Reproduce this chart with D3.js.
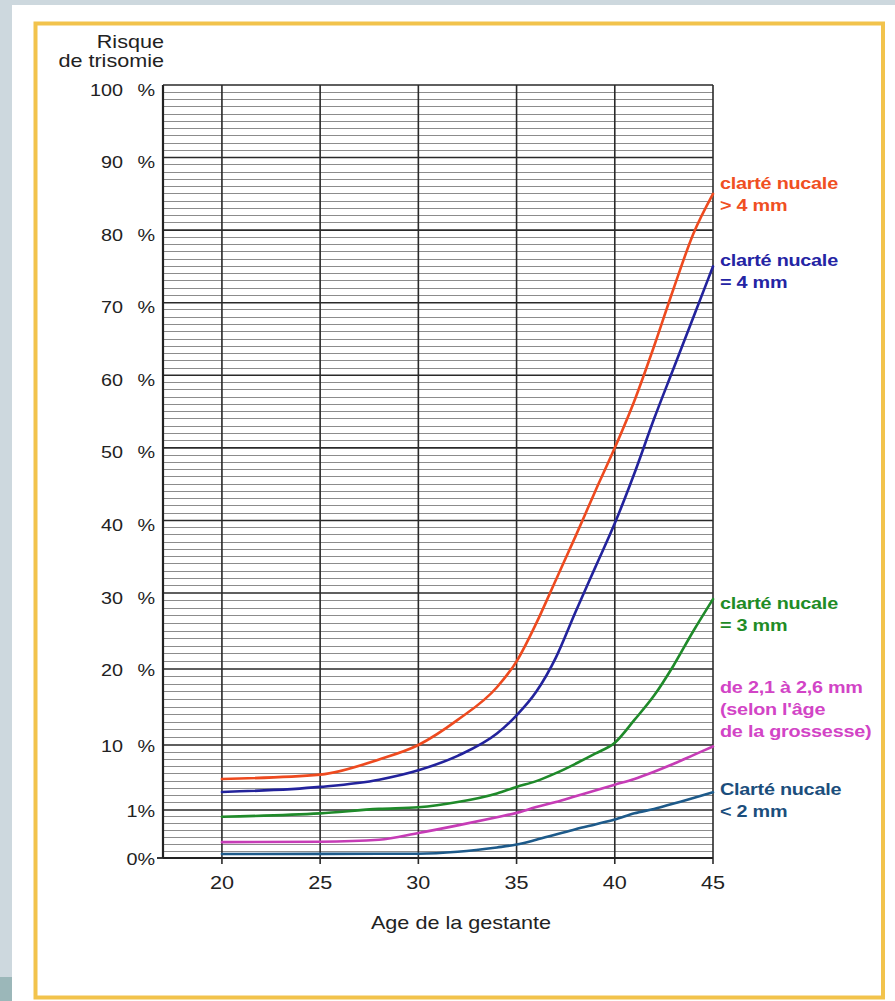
<!DOCTYPE html>
<html><head><meta charset="utf-8">
<script src="https://cdn.jsdelivr.net/npm/d3@7"></script>
<style>
html,body{margin:0;padding:0;background:#cdd8de;}
svg{display:block;}
text{font-family:"Liberation Sans",Arial,Helvetica,sans-serif;}
</style></head>
<body>
<svg id="chart" width="895" height="1001"></svg>
<script>
// ---- data ----
const ages = [20, 25, 28, 30, 32, 34, 35, 36, 37, 38, 39, 40, 41, 42, 43, 44, 45];
const sup4mm  = [5.3, 5.9, 8, 10, 13.3, 17.6, 21, 26, 31.8, 37.8, 44, 50, 56.5, 64, 72, 79.5, 85];
const eq4mm   = [3.5, 4.2, 5.2, 6.5, 8.5, 11.5, 13.9, 17, 21.5, 27.5, 33.5, 39.6, 46.5, 54, 61, 68, 75];
const eq3mm   = [0.86, 0.93, 1.15, 1.37, 2.1, 3.3, 4.2, 5.0, 6.1, 7.4, 8.8, 10.3, 13.3, 16.5, 20.5, 25, 29.2];
const mm21_26 = [0.33, 0.34, 0.38, 0.52, 0.68, 0.85, 0.94, 1.4, 2.1, 2.9, 3.7, 4.5, 5.3, 6.3, 7.4, 8.6, 9.8];
const inf2mm  = [0.083, 0.085, 0.088, 0.09, 0.13, 0.22, 0.28, 0.38, 0.49, 0.6, 0.7, 0.8, 0.93, 1.15, 1.9, 2.65, 3.45];

const xTicks = [20, 25, 30, 35, 40, 45];
const yTicks = [0, 1, 10, 20, 30, 40, 50, 60, 70, 80, 90, 100];
const yTickLabels = ["0%", "1%", "10 %", "20 %", "30 %", "40 %", "50 %", "60 %", "70 %", "80 %", "90 %", "100 %"];

const seriesColors = ["#ee4a1f", "#23239c", "#1f8a2a", "#c63cb6", "#1d5a8a"];
const labelColors  = ["#f04f22", "#2424a4", "#1f8c26", "#d244c6", "#1b4e7c"];
const seriesLabels = [
  ["clarté nucale", "> 4 mm"],
  ["clarté nucale", "= 4 mm"],
  ["clarté nucale", "= 3 mm"],
  ["de 2,1 à 2,6 mm", "(selon l'âge", "de la grossesse)"],
  ["Clarté nucale", "< 2 mm"]
];
const seriesValues = [sup4mm, eq4mm, eq3mm, mm21_26, inf2mm];

// ---- layout ----
const svg = d3.select("#chart");
const W = 895, H = 1001;
const plot = {left: 163, right: 713, top: 85, bottom: 858};

// page background pieces
svg.append("rect").attr("x", 0).attr("y", 0).attr("width", W).attr("height", H).attr("fill", "#cdd8de");
svg.append("rect").attr("x", 0).attr("y", 977).attr("width", 12).attr("height", 24).attr("fill", "#9bb7b9");
svg.append("rect").attr("x", 12).attr("y", 5).attr("width", W - 12).attr("height", H - 5).attr("fill", "#ffffff");
svg.append("rect").attr("x", 35.5).attr("y", 23.5).attr("width", 847.5).attr("height", 974)
  .attr("fill", "none").attr("stroke", "#f2c34c").attr("stroke-width", 4);

// scales
const x = d3.scaleLinear().domain([17, 45]).range([plot.left, plot.right]);
const y = d3.scaleLinear().domain([0, 1, 10, 30, 100]).range([plot.bottom, 810, 745, 593, plot.top]);

const g = svg.append("g");

// minor horizontal grid
const minor = d3.range(1, 7).map(i => i / 7).concat(d3.range(2, 100).filter(v => v % 10 !== 0));
g.append("g").selectAll("line").data(minor).join("line")
  .attr("x1", plot.left).attr("x2", plot.right)
  .attr("y1", d => y(d)).attr("y2", d => y(d))
  .attr("stroke", "#8c8c8c").attr("stroke-width", 1).attr("shape-rendering", "crispEdges");

// major horizontal grid
g.append("g").selectAll("line").data(yTicks).join("line")
  .attr("x1", plot.left).attr("x2", plot.right)
  .attr("y1", d => y(d)).attr("y2", d => y(d))
  .attr("stroke", "#2a2a2a").attr("stroke-width", 1.6);

// vertical grid with ticks
g.append("g").selectAll("line").data(xTicks).join("line")
  .attr("x1", d => x(d)).attr("x2", d => x(d))
  .attr("y1", plot.top).attr("y2", plot.bottom + 6)
  .attr("stroke", "#2a2a2a").attr("stroke-width", 1.6);

// left axis
g.append("line").attr("x1", plot.left).attr("x2", plot.left)
  .attr("y1", plot.top).attr("y2", plot.bottom)
  .attr("stroke", "#222").attr("stroke-width", 2.2);
g.append("line").attr("x1", plot.left - 6).attr("x2", plot.left)
  .attr("y1", y(0)).attr("y2", y(0)).attr("stroke", "#222").attr("stroke-width", 1.8);
g.append("line").attr("x1", plot.left).attr("x2", plot.right)
  .attr("y1", y(0)).attr("y2", y(0)).attr("stroke", "#222").attr("stroke-width", 2);

// helper for horizontally stretched text
function stext(parent, tx, ty, str, opts) {
  const gg = parent.append("g").attr("transform", `translate(${tx},${ty})`);
  const t = gg.append("text").attr("transform", "scale(1.2,1)")
    .attr("x", 0).attr("y", 0)
    .attr("text-anchor", opts.anchor || "start")
    .attr("font-size", opts.size || 18)
    .attr("font-weight", opts.weight || "normal")
    .attr("fill", opts.fill || "#222")
    .text(str);
  return t;
}

// y tick labels
yTicks.forEach((v, i) => {
  const lab = yTickLabels[i];
  const off = v >= 30 ? 10.5 : 6.5;
  if (lab.indexOf(" ") > 0) {
    const parts = lab.split(" ");
    stext(svg, 155, y(v) + off, parts[1], {anchor: "end", size: 16.5});
    stext(svg, 123, y(v) + off, parts[0], {anchor: "end", size: 16.5});
  } else {
    stext(svg, 155, y(v) + off, lab, {anchor: "end", size: 16.5});
  }
});

// x tick labels
xTicks.forEach(v => stext(svg, x(v), 889, String(v), {anchor: "middle"}));

// axis titles
stext(svg, 164, 48, "Risque", {anchor: "end"});
stext(svg, 164, 67, "de trisomie", {anchor: "end"});
stext(svg, 461, 929, "Age de la gestante", {anchor: "middle"});

// curves
const line = d3.line().x(d => x(d[0])).y(d => y(d[1])).curve(d3.curveMonotoneX);
seriesValues.forEach((vals, i) => {
  g.append("path")
    .datum(ages.map((a, j) => [a, vals[j]]))
    .attr("fill", "none")
    .attr("stroke", seriesColors[i])
    .attr("stroke-width", 2.6)
    .attr("stroke-linecap", "round")
    .attr("d", line);
});

// series labels
const labelBaselines = [189, 266, 609, 693, 795];
seriesLabels.forEach((lines, i) => {
  lines.forEach((ln, k) => {
    stext(svg, 720, labelBaselines[i] + k * 22, ln,
      {size: 16.5, weight: "bold", fill: labelColors[i]}).attr("letter-spacing", -0.2);
  });
});
</script>
</body></html>
